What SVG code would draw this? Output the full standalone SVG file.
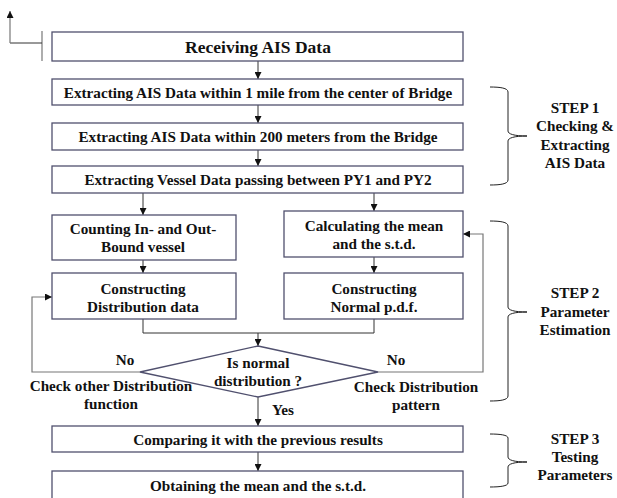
<svg xmlns="http://www.w3.org/2000/svg" width="617" height="498" viewBox="0 0 617 498">
<style>
.box{fill:#fff;stroke:#50506e;stroke-width:1.3}
.t{font-family:"Liberation Serif","Times New Roman",serif;font-weight:bold;font-size:15.2px;fill:#111;text-anchor:middle}
.big{font-size:17.5px}
.ln{fill:none;stroke:#333;stroke-width:1}
.gl{fill:none;stroke:#777;stroke-width:1.2}
.br{fill:none;stroke:#222;stroke-width:1}
</style>
<defs>
<marker id="ah" viewBox="0 0 10 10" refX="10" refY="5" markerWidth="7" markerHeight="7" markerUnits="userSpaceOnUse" orient="auto"><path d="M0,0L10,5L0,10z" fill="#111"/></marker>
</defs>
<g id="connectors">
<path class="gl" d="M42,31V61"/>
<path class="ln" d="M42,43H10"/>
<path class="gl" d="M10,43V11" marker-end="url(#ah)"/>
<path class="ln" d="M258,61V79" marker-end="url(#ah)"/>
<path class="ln" d="M258,105V123" marker-end="url(#ah)"/>
<path class="ln" d="M258,150V166" marker-end="url(#ah)"/>
<path class="ln" d="M143,193V215" marker-end="url(#ah)"/>
<path class="ln" d="M374,193V211" marker-end="url(#ah)"/>
<path class="ln" d="M143,260V273" marker-end="url(#ah)"/>
<path class="ln" d="M374,257V273" marker-end="url(#ah)"/>
<path class="ln" d="M143,319V333H374V319"/>
<path class="ln" d="M258,333V346" marker-end="url(#ah)"/>
<path class="gl" d="M140,372H32V297H52" marker-end="url(#ah)"/>
<path class="gl" d="M378,372H483V234H463" marker-end="url(#ah)"/>
<path class="ln" d="M258,397V426" marker-end="url(#ah)"/>
<path class="ln" d="M258,452V471" marker-end="url(#ah)"/>
<path class="br" d="M490,87C500,87 508,88 508,92V131C508,134 514,136 527,136C514,136 508,138 508,141V180C508,184 500,185 490,185"/>
<path class="br" d="M490,221C500,221 508,222 508,226V307C508,310 514,312 527,312C514,312 508,314 508,317V396C508,400 500,401 490,401"/>
<path class="br" d="M490,434C500,434 508,435 508,438V457C508,460 514,462 527,462C514,462 508,464 508,467V483C508,486 500,487 490,487"/>
</g>
<g id="n1"><rect class="box" x="52" y="32" width="411" height="29"/><text class="t big" x="258" y="52.5">Receiving AIS Data</text></g>
<g id="n2"><rect class="box" x="52" y="79" width="411" height="26"/><text class="t" x="258" y="97.5">Extracting AIS Data within 1 mile from the center of Bridge</text></g>
<g id="n3"><rect class="box" x="52" y="123" width="411" height="27"/><text class="t" x="258" y="141.5">Extracting AIS Data within 200 meters from the Bridge</text></g>
<g id="n4"><rect class="box" x="52" y="166" width="411" height="27"/><text class="t" x="258" y="184.5">Extracting Vessel Data passing between PY1 and PY2</text></g>
<g id="n5"><rect class="box" x="52" y="215" width="184" height="45"/><text class="t" x="143" y="234">Counting In- and Out-</text><text class="t" x="143" y="252">Bound vessel</text></g>
<g id="n6"><rect class="box" x="284" y="211" width="179" height="46"/><text class="t" x="374" y="231">Calculating the mean</text><text class="t" x="374" y="249">and the s.t.d.</text></g>
<g id="n7"><rect class="box" x="52" y="273" width="184" height="46"/><text class="t" x="143" y="294">Constructing</text><text class="t" x="143" y="312">Distribution data</text></g>
<g id="n8"><rect class="box" x="284" y="273" width="179" height="46"/><text class="t" x="374" y="294">Constructing</text><text class="t" x="374" y="312">Normal p.d.f.</text></g>
<g id="n9"><path class="box" d="M258,346L378,372L258,397L140,372Z"/><text class="t" x="258" y="368">Is normal</text><text class="t" x="258" y="386">distribution ?</text></g>
<g id="n10"><rect class="box" x="52" y="426" width="411" height="26"/><text class="t" x="258" y="444.5">Comparing it with the previous results</text></g>
<g id="n11"><rect class="box" x="52" y="471" width="411" height="30"/><text class="t" x="258" y="491">Obtaining the mean and the s.t.d.</text></g>
<g id="labels">
<text class="t" x="125" y="365">No</text>
<text class="t" x="111" y="391">Check other Distribution</text>
<text class="t" x="111" y="409">function</text>
<text class="t" x="396" y="365">No</text>
<text class="t" x="416" y="392">Check Distribution</text>
<text class="t" x="416" y="410">pattern</text>
<text class="t" x="283" y="415">Yes</text>
<text class="t" x="575" y="113">STEP 1</text>
<text class="t" x="575" y="131">Checking &amp;</text>
<text class="t" x="575" y="150">Extracting</text>
<text class="t" x="575" y="168">AIS Data</text>
<text class="t" x="575" y="298">STEP 2</text>
<text class="t" x="575" y="317">Parameter</text>
<text class="t" x="575" y="335">Estimation</text>
<text class="t" x="575" y="444">STEP 3</text>
<text class="t" x="575" y="462">Testing</text>
<text class="t" x="575" y="480">Parameters</text>
</g>
</svg>
